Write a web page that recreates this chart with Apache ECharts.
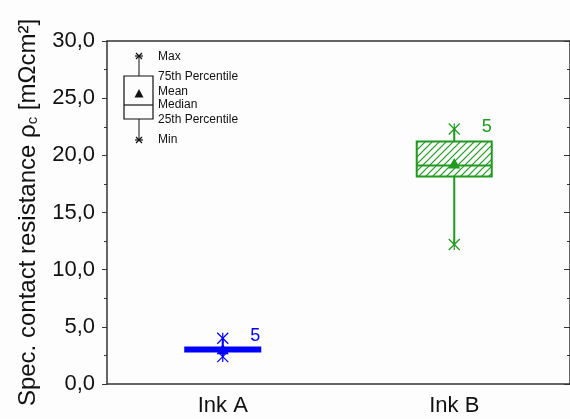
<!DOCTYPE html>
<html>
<head>
<meta charset="utf-8">
<script src="https://cdn.jsdelivr.net/npm/echarts@6/dist/echarts.min.js"></script>
<style>
  html, body { margin: 0; padding: 0; background: #fdfdfd; }
  #chart { width: 570px; height: 419px; }
</style>
</head>
<body>
<div id="chart"></div>
<script>
// box plot statistics per ink
const categories = ["Ink A", "Ink B"];
const minValues = [2.4, 12.2];
const q1Values = [2.85, 18.15];
const medianValues = [3.0, 19.1];
const q3Values = [3.2, 21.2];
const maxValues = [4.0, 22.3];
const meanValues = [3.0, 19.25];
const sampleCounts = [5, 5];
const yMin = 0;
const yMax = 30;
const yStep = 5;
const legendLabels = ["Max", "75th Percentile", "Mean", "Median", "25th Percentile", "Min"];

const colors = ["#0000ff", "#1f9a1f"];
const font = "'Liberation Sans', Arial, sans-serif";
const axisColor = "#333";

function hatch(color) {
  const c = document.createElement("canvas");
  c.width = 7;
  c.height = 7;
  const ctx = c.getContext("2d");
  ctx.strokeStyle = color;
  ctx.lineWidth = 1.2;
  ctx.beginPath();
  ctx.moveTo(-1, 8); ctx.lineTo(8, -1);
  ctx.moveTo(-4.5, 4.5); ctx.lineTo(4.5, -4.5);
  ctx.moveTo(2.5, 11.5); ctx.lineTo(11.5, 2.5);
  ctx.stroke();
  return c;
}

const fills = [colors[0], { image: hatch(colors[1]), repeat: "repeat" }];

const boxData = categories.map((c, i) => [
  i, minValues[i], q1Values[i], medianValues[i], q3Values[i], maxValues[i], meanValues[i], sampleCounts[i]
]);

function renderBox(params, api) {
  const i = api.value(0);
  const color = colors[i];
  const x = api.coord([i, 0])[0];
  const y = (v) => api.coord([i, v])[1];
  const half = api.size([1, 0])[0] * 0.162;
  const yLo = y(api.value(1));
  const yQ1 = y(api.value(2));
  const yMed = y(api.value(3));
  const yQ3 = y(api.value(4));
  const yHi = y(api.value(5));
  const yMean = y(api.value(6));
  const line = (x1, y1, x2, y2, w) => ({
    type: "line",
    shape: { x1, y1, x2, y2 },
    style: { stroke: color, lineWidth: w || 1.5 }
  });
  const star = (cy, r) => [
    line(x - r, cy - r, x + r, cy + r, 1.2),
    line(x - r, cy + r, x + r, cy - r, 1.2),
    line(x, cy - r, x, cy + r, 1.2)
  ];
  return {
    type: "group",
    children: [
      line(x, yQ3, x, yHi, 2),
      line(x, yQ1, x, yLo, 2),
      {
        type: "rect",
        shape: { x: x - half, y: yQ3, width: 2 * half, height: yQ1 - yQ3 },
        style: { fill: fills[i], stroke: color, lineWidth: 2 }
      },
      line(x - half, yMed, x + half, yMed, 2),
      ...star(yHi, 5.5),
      ...star(yLo, 5.5),
      {
        type: "polygon",
        shape: { points: [[x, yMean - 6], [x - 6, yMean + 4.5], [x + 6, yMean + 4.5]] },
        style: { fill: color }
      },
      {
        type: "text",
        style: {
          text: String(api.value(7)),
          x: x + half,
          y: yHi - 2,
          align: "right",
          verticalAlign: "middle",
          fill: color,
          font: "18px " + font
        }
      }
    ]
  };
}

// legend inset (top-left)
const legendY = [56.5, 76.5, 91.5, 105, 119.5, 140];
const lx = 139;
const ink = "#111";
const legendGraphic = [
  { type: "line", shape: { x1: lx, y1: 56, x2: lx, y2: 76 }, style: { stroke: ink, lineWidth: 1 } },
  { type: "line", shape: { x1: lx, y1: 119, x2: lx, y2: 140 }, style: { stroke: ink, lineWidth: 1 } },
  { type: "rect", shape: { x: 124, y: 76, width: 29, height: 43 }, style: { fill: "none", stroke: ink, lineWidth: 1.2 } },
  { type: "line", shape: { x1: 124, y1: 105, x2: 153, y2: 105 }, style: { stroke: ink, lineWidth: 1.2 } },
  { type: "polygon", shape: { points: [[lx, 89], [lx - 4.5, 97.5], [lx + 4.5, 97.5]] }, style: { fill: ink } },
  ...[56, 140].flatMap((cy) => [
    { type: "line", shape: { x1: lx - 3, y1: cy - 3, x2: lx + 3, y2: cy + 3 }, style: { stroke: ink, lineWidth: 1.2 } },
    { type: "line", shape: { x1: lx - 3, y1: cy + 3, x2: lx + 3, y2: cy - 3 }, style: { stroke: ink, lineWidth: 1.2 } },
    { type: "line", shape: { x1: lx - 4, y1: cy, x2: lx + 4, y2: cy }, style: { stroke: ink, lineWidth: 1.2 } }
  ]),
  ...legendLabels.map((t, k) => ({
    type: "text",
    style: { text: t, x: 158, y: legendY[k], verticalAlign: "middle", fill: ink, font: "12px " + font }
  }))
];

const chart = echarts.init(document.getElementById("chart"));
chart.setOption({
  backgroundColor: "#fdfdfd",
  animation: false,
  grid: { left: 107, right: -2, top: 41, bottom: 35 },
  xAxis: [
    {
      type: "category",
      data: categories,
      axisLine: { onZero: false, lineStyle: { color: axisColor, width: 1.5 } },
      axisTick: { alignWithLabel: true, length: 5, lineStyle: { color: axisColor } },
      axisLabel: { color: "#111", fontSize: 22, fontFamily: font, margin: 11 },
      splitLine: { show: false }
    },
    {
      type: "category",
      position: "top",
      data: categories,
      axisLine: { onZero: false, lineStyle: { color: axisColor, width: 1.5 } },
      axisTick: { alignWithLabel: true, inside: true, length: 5, lineStyle: { color: axisColor } },
      axisLabel: { show: false },
      splitLine: { show: false }
    }
  ],
  yAxis: [
    {
      type: "value",
      min: yMin,
      max: yMax,
      interval: yStep,
      name: "{a|Spec. contact resistance ρ}{s|c}{a| [mΩcm²]}",
      nameLocation: "middle",
      nameGap: 67,
      nameTextStyle: {
        color: "#111",
        rich: {
          a: { fontSize: 24, fontFamily: font, color: "#111" },
          s: { fontSize: 15, fontFamily: font, color: "#111", verticalAlign: "bottom", padding: [8, 0, 0, 0] }
        }
      },
      axisLine: { show: true, onZero: false, lineStyle: { color: axisColor, width: 1.5 } },
      axisTick: { show: true, length: 5, lineStyle: { color: axisColor } },
      minorTick: { show: true, splitNumber: 2, length: 3, lineStyle: { color: axisColor } },
      axisLabel: {
        color: "#111",
        fontSize: 22,
        fontFamily: font,
        margin: 12,
        formatter: (v) => v.toFixed(1).replace(".", ",")
      },
      splitLine: { show: false }
    },
    {
      type: "value",
      position: "right",
      min: yMin,
      max: yMax,
      interval: yStep,
      axisLine: { show: true, onZero: false, lineStyle: { color: axisColor, width: 1.5 } },
      axisTick: { show: true, inside: true, length: 6, lineStyle: { color: axisColor } },
      minorTick: { show: true, splitNumber: 2, length: 3, lineStyle: { color: axisColor } },
      axisLabel: { show: false },
      splitLine: { show: false }
    }
  ],
  graphic: legendGraphic,
  series: [
    {
      type: "custom",
      name: "box",
      data: boxData,
      encode: { x: 0, y: [1, 2, 3, 4, 5] },
      renderItem: renderBox,
      clip: false
    }
  ]
});
</script>
</body>
</html>
